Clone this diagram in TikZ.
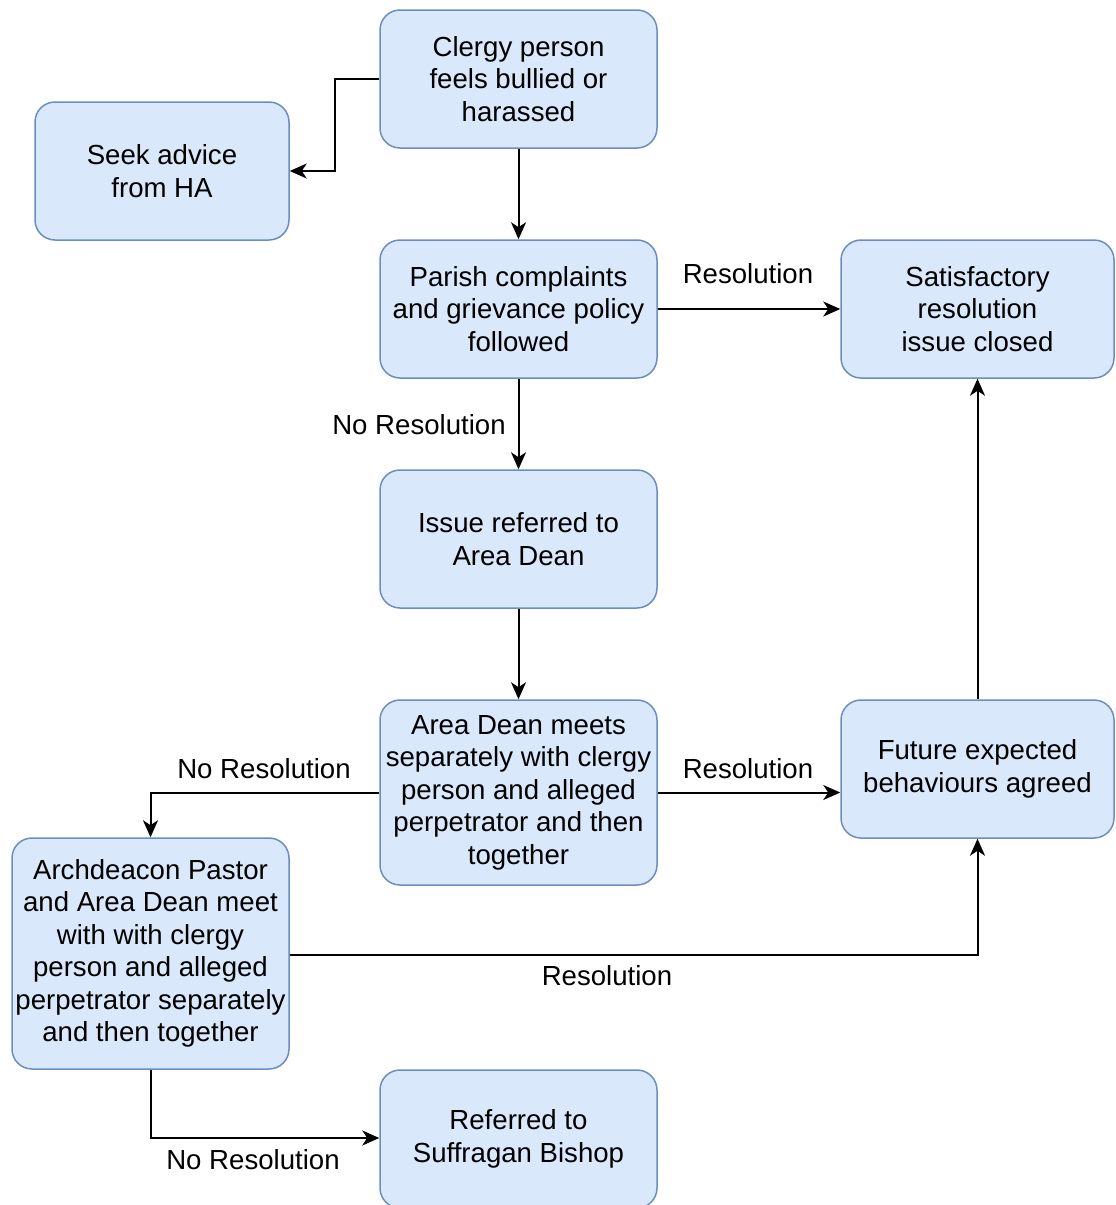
\documentclass[tikz,border=0pt]{standalone}
\usepackage{fontspec}
\setmainfont{Liberation Sans}
\usetikzlibrary{arrows.meta}
\definecolor{boxfill}{HTML}{DAE8FC}
\definecolor{boxdraw}{HTML}{6C8EBF}
\begin{document}
\begin{tikzpicture}[x=1pt,y=-1pt,
  flowbox/.style={draw=boxdraw,fill=boxfill,line width=1.5pt,rounded corners=20pt,
    minimum width=277pt,minimum height=138pt,align=center,inner sep=2pt,
    font=\fontsize{27.6}{32.5}\selectfont},
  conn/.style={line width=2pt,-{Stealth[length=17pt,width=15pt,inset=5pt]}},
  lbl/.style={font=\fontsize{27.6}{32.5}\selectfont,inner sep=0pt}]
\useasboundingbox (0,0) rectangle (1116,1205);
\node[flowbox] (clergy) at (518.5,79) {Clergy person\\feels bullied or\\harassed};
\node[flowbox,minimum width=254pt] (seek) at (162,171) {Seek advice\\from HA};
\node[flowbox] (parish) at (518.5,309) {Parish complaints\\and grievance policy\\followed};
\node[flowbox,minimum width=273pt] (satis) at (977.5,309) {Satisfactory\\resolution\\issue closed};
\node[flowbox] (issue) at (518.5,539) {Issue referred to\\Area Dean};
\node[flowbox,minimum height=185pt] (adean) at (518.5,792.5) {Area Dean meets\\separately with clergy\\person and alleged\\perpetrator and then\\together};
\node[flowbox,minimum width=273pt] (future) at (977.5,769) {Future expected\\behaviours agreed};
\node[flowbox,minimum height=231pt] (arch) at (150.5,953.5) {Archdeacon Pastor\\and Area Dean meet\\with with clergy\\person and alleged\\perpetrator separately\\and then together};
\node[flowbox] (suff) at (518.5,1139) {Referred to\\Suffragan Bishop};
\coordinate (c1) at (335,79);
\coordinate (c2) at (335,171);
\draw[conn] (clergy.west) -- (c1) -- (c2) -- (seek.east);
\draw[conn] (clergy.south) -- (parish.north);
\draw[conn] (parish.east) -- (satis.west);
\node[lbl] (l1) at (748,274) {Resolution};
\draw[conn] (parish.south) -- (issue.north);
\node[lbl] (l2) at (419,425) {No Resolution};
\draw[conn] (issue.south) -- (adean.north);
\draw[conn] (adean.east) -- (adean.east -| future.west);
\node[lbl] (l3) at (748,769) {Resolution};
\draw[conn] (adean.west) -| (arch.north);
\node[lbl] (l4) at (264,769) {No Resolution};
\coordinate (c3) at (arch.east |- 0,955);
\draw[conn] (c3) -| (future.south);
\node[lbl] (l5) at (607,976) {Resolution};
\coordinate (c4) at (150.5,1138);
\draw[conn] (arch.south) -- (c4) -- (c4 -| suff.west);
\node[lbl] (l6) at (253,1160) {No Resolution};
\draw[conn] (future.north) -- (satis.south);
\end{tikzpicture}
\end{document}
